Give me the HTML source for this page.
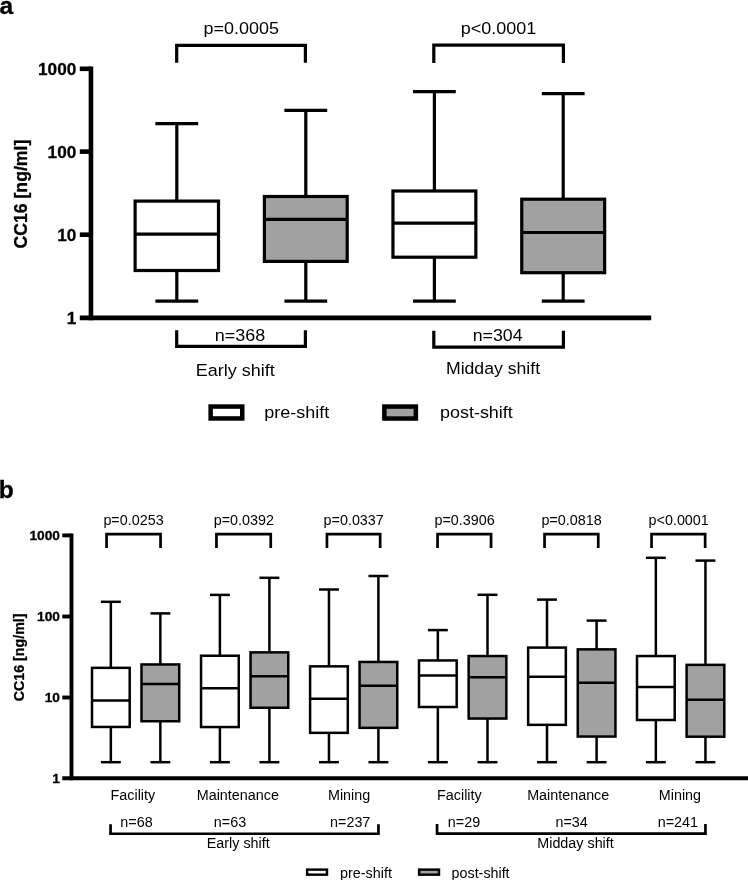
<!DOCTYPE html>
<html><head><meta charset="utf-8"><title>CC16 boxplots</title>
<style>
html,body{margin:0;padding:0;background:#fff;}
body{width:748px;height:880px;overflow:hidden;}
svg{display:block;will-change:transform;}
svg text{font-family:"Liberation Sans",sans-serif;fill:#000;}
</style></head><body>
<svg width="748" height="880" viewBox="0 0 748 880">
<rect x="0" y="0" width="748" height="880" fill="#fff"/>
<text transform="translate(-0.4 13.8) scale(1 1.0)" font-size="24.6" text-anchor="start" font-weight="700" stroke="#000" stroke-width="0.3">a</text>
<line x1="90.95" y1="66.5" x2="90.95" y2="320.15000000000003" stroke="#000" stroke-width="4.6"/>
<line x1="79.8" y1="317.85" x2="651.2" y2="317.85" stroke="#000" stroke-width="4.6"/>
<line x1="79.8" y1="68.8" x2="90.95" y2="68.8" stroke="#000" stroke-width="4.6"/>
<line x1="79.8" y1="151.6" x2="90.95" y2="151.6" stroke="#000" stroke-width="4.6"/>
<line x1="79.8" y1="234.7" x2="90.95" y2="234.7" stroke="#000" stroke-width="4.6"/>
<text transform="translate(76.3 74.8) scale(1 0.965)" font-size="17.2" text-anchor="end" font-weight="700" stroke="#000" stroke-width="0.3">1000</text>
<text transform="translate(76.3 157.6) scale(1 0.965)" font-size="17.2" text-anchor="end" font-weight="700" stroke="#000" stroke-width="0.3">100</text>
<text transform="translate(76.3 240.7) scale(1 0.965)" font-size="17.2" text-anchor="end" font-weight="700" stroke="#000" stroke-width="0.3">10</text>
<text transform="translate(76.3 323.85) scale(1 0.965)" font-size="17.2" text-anchor="end" font-weight="700" stroke="#000" stroke-width="0.3">1</text>
<text transform="translate(26.6 248.5) rotate(-90) scale(1 1.03)" font-size="17.65" font-weight="700" stroke="#000" stroke-width="0.3">CC16 [ng/ml]</text>
<line x1="176.8" y1="123.6" x2="176.8" y2="301.2" stroke="#000" stroke-width="3.2"/>
<line x1="155.4" y1="123.6" x2="198.20000000000002" y2="123.6" stroke="#000" stroke-width="3.2"/>
<line x1="155.4" y1="301.2" x2="198.20000000000002" y2="301.2" stroke="#000" stroke-width="3.2"/>
<rect x="135.1" y="201.1" width="83.39999999999999" height="69.40000000000002" fill="#fff" stroke="#000" stroke-width="3.2"/>
<line x1="135.1" y1="234.1" x2="218.5" y2="234.1" stroke="#000" stroke-width="3.2"/>
<line x1="305.8" y1="110.3" x2="305.8" y2="301.2" stroke="#000" stroke-width="3.2"/>
<line x1="284.40000000000003" y1="110.3" x2="327.2" y2="110.3" stroke="#000" stroke-width="3.2"/>
<line x1="284.40000000000003" y1="301.2" x2="327.2" y2="301.2" stroke="#000" stroke-width="3.2"/>
<rect x="264.40000000000003" y="196.5" width="82.8" height="64.89999999999999" fill="#a1a1a1" stroke="#000" stroke-width="3.2"/>
<line x1="264.40000000000003" y1="219.4" x2="347.2" y2="219.4" stroke="#000" stroke-width="3.2"/>
<line x1="434.4" y1="91.7" x2="434.4" y2="301.1" stroke="#000" stroke-width="3.2"/>
<line x1="413.0" y1="91.7" x2="455.79999999999995" y2="91.7" stroke="#000" stroke-width="3.2"/>
<line x1="413.0" y1="301.1" x2="455.79999999999995" y2="301.1" stroke="#000" stroke-width="3.2"/>
<rect x="392.95" y="191.0" width="82.89999999999999" height="66.2" fill="#fff" stroke="#000" stroke-width="3.2"/>
<line x1="392.95" y1="223.1" x2="475.8499999999999" y2="223.1" stroke="#000" stroke-width="3.2"/>
<line x1="563.2" y1="93.6" x2="563.2" y2="301.1" stroke="#000" stroke-width="3.2"/>
<line x1="541.8000000000001" y1="93.6" x2="584.6" y2="93.6" stroke="#000" stroke-width="3.2"/>
<line x1="541.8000000000001" y1="301.1" x2="584.6" y2="301.1" stroke="#000" stroke-width="3.2"/>
<rect x="521.7500000000001" y="199.2" width="82.89999999999999" height="73.50000000000001" fill="#a1a1a1" stroke="#000" stroke-width="3.2"/>
<line x1="521.7500000000001" y1="232.5" x2="604.6500000000001" y2="232.5" stroke="#000" stroke-width="3.2"/>
<path d="M176.7 62.8 V45.300000000000004 H305.4 V62.8" fill="none" stroke="#000" stroke-width="3.2"/>
<path d="M433.8 62.9 V45.1 H563.4 V62.9" fill="none" stroke="#000" stroke-width="3.2"/>
<text transform="translate(241.2 34.1) scale(1 0.965)" font-size="18.0" text-anchor="middle">p=0.0005</text>
<text transform="translate(498.6 34.3) scale(1 0.965)" font-size="18.0" text-anchor="middle">p&lt;0.0001</text>
<path d="M176.7 330.3 V346.29999999999995 H305.4 V330.3" fill="none" stroke="#000" stroke-width="3.2"/>
<path d="M433.8 330.8 V347.09999999999997 H563.4 V330.8" fill="none" stroke="#000" stroke-width="3.2"/>
<text transform="translate(239.9 341.1) scale(1 0.965)" font-size="18.0" text-anchor="middle">n=368</text>
<text transform="translate(497.6 341.1) scale(1 0.965)" font-size="17.75" text-anchor="middle">n=304</text>
<text transform="translate(235.3 375.9) scale(1 0.965)" font-size="18.0" text-anchor="middle">Early shift</text>
<text transform="translate(493.0 373.6) scale(1 0.965)" font-size="17.65" text-anchor="middle">Midday shift</text>
<rect x="210.65" y="406.55" width="31.6" height="11.899999999999999" fill="#fff" stroke="#000" stroke-width="4.5"/>
<text transform="translate(264.2 418.2) scale(1 0.965)" font-size="18.0" text-anchor="start">pre-shift</text>
<rect x="384.35" y="406.55" width="31.5" height="12.0" fill="#a1a1a1" stroke="#000" stroke-width="4.5"/>
<text transform="translate(439.9 418.2) scale(1 0.965)" font-size="18.0" text-anchor="start">post-shift</text>
<text transform="translate(-1.2 498.0) scale(1 1.0)" font-size="24.6" text-anchor="start" font-weight="700" stroke="#000" stroke-width="0.3">b</text>
<line x1="71.5" y1="533.4499999999999" x2="71.5" y2="780.25" stroke="#000" stroke-width="3.9"/>
<line x1="62.3" y1="778.3" x2="748" y2="778.3" stroke="#000" stroke-width="3.9"/>
<line x1="62.3" y1="535.4" x2="71.5" y2="535.4" stroke="#000" stroke-width="3.9"/>
<line x1="62.3" y1="616.5" x2="71.5" y2="616.5" stroke="#000" stroke-width="3.9"/>
<line x1="62.3" y1="697.5" x2="71.5" y2="697.5" stroke="#000" stroke-width="3.9"/>
<text transform="translate(60.0 540.3) scale(1 0.965)" font-size="13.75" text-anchor="end" font-weight="700" stroke="#000" stroke-width="0.3">1000</text>
<text transform="translate(60.0 621.4) scale(1 0.965)" font-size="13.75" text-anchor="end" font-weight="700" stroke="#000" stroke-width="0.3">100</text>
<text transform="translate(60.0 702.4) scale(1 0.965)" font-size="13.75" text-anchor="end" font-weight="700" stroke="#000" stroke-width="0.3">10</text>
<text transform="translate(60.0 783.1999999999999) scale(1 0.965)" font-size="13.75" text-anchor="end" font-weight="700" stroke="#000" stroke-width="0.3">1</text>
<text transform="translate(23.7 701.3) rotate(-90) scale(1 1.03)" font-size="14.25" font-weight="700" stroke="#000" stroke-width="0.25">CC16 [ng/ml]</text>
<line x1="110.85" y1="601.8" x2="110.85" y2="762.2" stroke="#000" stroke-width="2.5"/>
<line x1="100.89999999999999" y1="601.8" x2="120.8" y2="601.8" stroke="#000" stroke-width="2.5"/>
<line x1="100.89999999999999" y1="762.2" x2="120.8" y2="762.2" stroke="#000" stroke-width="2.5"/>
<rect x="92.0" y="667.85" width="37.7" height="59.10000000000002" fill="#fff" stroke="#000" stroke-width="2.5"/>
<line x1="92.0" y1="700.4" x2="129.7" y2="700.4" stroke="#000" stroke-width="2.5"/>
<line x1="160.35" y1="613.4" x2="160.35" y2="762.2" stroke="#000" stroke-width="2.5"/>
<line x1="150.4" y1="613.4" x2="170.29999999999998" y2="613.4" stroke="#000" stroke-width="2.5"/>
<line x1="150.4" y1="762.2" x2="170.29999999999998" y2="762.2" stroke="#000" stroke-width="2.5"/>
<rect x="141.5" y="664.45" width="37.7" height="56.799999999999955" fill="#a1a1a1" stroke="#000" stroke-width="2.5"/>
<line x1="141.5" y1="683.9" x2="179.2" y2="683.9" stroke="#000" stroke-width="2.5"/>
<line x1="219.9" y1="594.9" x2="219.9" y2="762.2" stroke="#000" stroke-width="2.5"/>
<line x1="209.95000000000002" y1="594.9" x2="229.85" y2="594.9" stroke="#000" stroke-width="2.5"/>
<line x1="209.95000000000002" y1="762.2" x2="229.85" y2="762.2" stroke="#000" stroke-width="2.5"/>
<rect x="201.05" y="655.75" width="37.7" height="71.29999999999995" fill="#fff" stroke="#000" stroke-width="2.5"/>
<line x1="201.05" y1="688.3" x2="238.75" y2="688.3" stroke="#000" stroke-width="2.5"/>
<line x1="269.4" y1="577.8" x2="269.4" y2="762.2" stroke="#000" stroke-width="2.5"/>
<line x1="259.45" y1="577.8" x2="279.34999999999997" y2="577.8" stroke="#000" stroke-width="2.5"/>
<line x1="259.45" y1="762.2" x2="279.34999999999997" y2="762.2" stroke="#000" stroke-width="2.5"/>
<rect x="250.54999999999998" y="652.35" width="37.7" height="55.39999999999998" fill="#a1a1a1" stroke="#000" stroke-width="2.5"/>
<line x1="250.54999999999998" y1="676.2" x2="288.25" y2="676.2" stroke="#000" stroke-width="2.5"/>
<line x1="328.95" y1="589.5" x2="328.95" y2="762.2" stroke="#000" stroke-width="2.5"/>
<line x1="319.0" y1="589.5" x2="338.9" y2="589.5" stroke="#000" stroke-width="2.5"/>
<line x1="319.0" y1="762.2" x2="338.9" y2="762.2" stroke="#000" stroke-width="2.5"/>
<rect x="310.09999999999997" y="666.35" width="37.7" height="66.5" fill="#fff" stroke="#000" stroke-width="2.5"/>
<line x1="310.09999999999997" y1="698.65" x2="347.79999999999995" y2="698.65" stroke="#000" stroke-width="2.5"/>
<line x1="378.4" y1="576.0" x2="378.4" y2="762.2" stroke="#000" stroke-width="2.5"/>
<line x1="368.45" y1="576.0" x2="388.34999999999997" y2="576.0" stroke="#000" stroke-width="2.5"/>
<line x1="368.45" y1="762.2" x2="388.34999999999997" y2="762.2" stroke="#000" stroke-width="2.5"/>
<rect x="359.54999999999995" y="661.95" width="37.7" height="65.89999999999998" fill="#a1a1a1" stroke="#000" stroke-width="2.5"/>
<line x1="359.54999999999995" y1="685.65" x2="397.24999999999994" y2="685.65" stroke="#000" stroke-width="2.5"/>
<line x1="437.85" y1="630.1" x2="437.85" y2="762.2" stroke="#000" stroke-width="2.5"/>
<line x1="427.90000000000003" y1="630.1" x2="447.8" y2="630.1" stroke="#000" stroke-width="2.5"/>
<line x1="427.90000000000003" y1="762.2" x2="447.8" y2="762.2" stroke="#000" stroke-width="2.5"/>
<rect x="419.0" y="660.45" width="37.7" height="46.549999999999955" fill="#fff" stroke="#000" stroke-width="2.5"/>
<line x1="419.0" y1="675.6" x2="456.7" y2="675.6" stroke="#000" stroke-width="2.5"/>
<line x1="487.5" y1="594.8" x2="487.5" y2="762.2" stroke="#000" stroke-width="2.5"/>
<line x1="477.55" y1="594.8" x2="497.45" y2="594.8" stroke="#000" stroke-width="2.5"/>
<line x1="477.55" y1="762.2" x2="497.45" y2="762.2" stroke="#000" stroke-width="2.5"/>
<rect x="468.65" y="656.05" width="37.7" height="62.5" fill="#a1a1a1" stroke="#000" stroke-width="2.5"/>
<line x1="468.65" y1="677.2" x2="506.34999999999997" y2="677.2" stroke="#000" stroke-width="2.5"/>
<line x1="547.0" y1="599.6" x2="547.0" y2="762.2" stroke="#000" stroke-width="2.5"/>
<line x1="537.05" y1="599.6" x2="556.95" y2="599.6" stroke="#000" stroke-width="2.5"/>
<line x1="537.05" y1="762.2" x2="556.95" y2="762.2" stroke="#000" stroke-width="2.5"/>
<rect x="528.15" y="647.6" width="37.7" height="77.25" fill="#fff" stroke="#000" stroke-width="2.5"/>
<line x1="528.15" y1="676.8" x2="565.85" y2="676.8" stroke="#000" stroke-width="2.5"/>
<line x1="596.6" y1="620.6" x2="596.6" y2="762.2" stroke="#000" stroke-width="2.5"/>
<line x1="586.65" y1="620.6" x2="606.5500000000001" y2="620.6" stroke="#000" stroke-width="2.5"/>
<line x1="586.65" y1="762.2" x2="606.5500000000001" y2="762.2" stroke="#000" stroke-width="2.5"/>
<rect x="577.75" y="649.35" width="37.7" height="87.19999999999993" fill="#a1a1a1" stroke="#000" stroke-width="2.5"/>
<line x1="577.75" y1="682.7" x2="615.45" y2="682.7" stroke="#000" stroke-width="2.5"/>
<line x1="655.85" y1="557.8" x2="655.85" y2="762.2" stroke="#000" stroke-width="2.5"/>
<line x1="645.9" y1="557.8" x2="665.8000000000001" y2="557.8" stroke="#000" stroke-width="2.5"/>
<line x1="645.9" y1="762.2" x2="665.8000000000001" y2="762.2" stroke="#000" stroke-width="2.5"/>
<rect x="637.0" y="656.05" width="37.7" height="63.950000000000045" fill="#fff" stroke="#000" stroke-width="2.5"/>
<line x1="637.0" y1="687.1" x2="674.7" y2="687.1" stroke="#000" stroke-width="2.5"/>
<line x1="705.45" y1="560.6" x2="705.45" y2="762.2" stroke="#000" stroke-width="2.5"/>
<line x1="695.5" y1="560.6" x2="715.4000000000001" y2="560.6" stroke="#000" stroke-width="2.5"/>
<line x1="695.5" y1="762.2" x2="715.4000000000001" y2="762.2" stroke="#000" stroke-width="2.5"/>
<rect x="686.6" y="664.85" width="37.7" height="71.85000000000002" fill="#a1a1a1" stroke="#000" stroke-width="2.5"/>
<line x1="686.6" y1="699.7" x2="724.3000000000001" y2="699.7" stroke="#000" stroke-width="2.5"/>
<path d="M106.55 548.1 V534.0500000000001 H160.55 V548.1" fill="none" stroke="#000" stroke-width="2.7"/>
<path d="M216.45 548.1 V534.0500000000001 H270.75 V548.1" fill="none" stroke="#000" stroke-width="2.7"/>
<path d="M326.95000000000005 548.1 V534.0500000000001 H380.15 V548.1" fill="none" stroke="#000" stroke-width="2.7"/>
<path d="M437.55 548.1 V534.0500000000001 H491.04999999999995 V548.1" fill="none" stroke="#000" stroke-width="2.7"/>
<path d="M544.5500000000001 548.1 V534.0500000000001 H598.25 V548.1" fill="none" stroke="#000" stroke-width="2.7"/>
<path d="M651.5500000000001 548.1 V534.0500000000001 H705.15 V548.1" fill="none" stroke="#000" stroke-width="2.7"/>
<text transform="translate(133.5 525.3) scale(1 0.965)" font-size="14.35" text-anchor="middle">p=0.0253</text>
<text transform="translate(243.8 525.3) scale(1 0.965)" font-size="14.35" text-anchor="middle">p=0.0392</text>
<text transform="translate(353.7 525.3) scale(1 0.965)" font-size="14.35" text-anchor="middle">p=0.0337</text>
<text transform="translate(464.6 525.3) scale(1 0.965)" font-size="14.35" text-anchor="middle">p=0.3906</text>
<text transform="translate(571.5 525.3) scale(1 0.965)" font-size="14.35" text-anchor="middle">p=0.0818</text>
<text transform="translate(678.7 525.3) scale(1 0.965)" font-size="14.35" text-anchor="middle">p&lt;0.0001</text>
<text transform="translate(132.9 800.2) scale(1 0.965)" font-size="14.35" text-anchor="middle">Facility</text>
<text transform="translate(237.8 800.2) scale(1 0.965)" font-size="14.35" text-anchor="middle">Maintenance</text>
<text transform="translate(349.1 800.2) scale(1 0.965)" font-size="14.35" text-anchor="middle">Mining</text>
<text transform="translate(459.4 799.8) scale(1 0.965)" font-size="14.35" text-anchor="middle">Facility</text>
<text transform="translate(568.2 799.8) scale(1 0.965)" font-size="14.35" text-anchor="middle">Maintenance</text>
<text transform="translate(679.9 799.8) scale(1 0.965)" font-size="14.35" text-anchor="middle">Mining</text>
<text transform="translate(136.5 827.1) scale(1 0.965)" font-size="14.35" text-anchor="middle">n=68</text>
<text transform="translate(230.0 827.1) scale(1 0.965)" font-size="14.35" text-anchor="middle">n=63</text>
<text transform="translate(350.2 827.1) scale(1 0.965)" font-size="14.35" text-anchor="middle">n=237</text>
<text transform="translate(464.0 826.6) scale(1 0.965)" font-size="14.35" text-anchor="middle">n=29</text>
<text transform="translate(571.6 826.6) scale(1 0.965)" font-size="14.35" text-anchor="middle">n=34</text>
<text transform="translate(677.9 826.6) scale(1 0.965)" font-size="14.35" text-anchor="middle">n=241</text>
<path d="M110.55 824.3 V833.75 H378.45 V824.3" fill="none" stroke="#000" stroke-width="2.7"/>
<path d="M437.05 824.0 V833.55 H705.4499999999999 V824.0" fill="none" stroke="#000" stroke-width="2.7"/>
<text transform="translate(238.2 848.0) scale(1 0.965)" font-size="14.35" text-anchor="middle">Early shift</text>
<text transform="translate(575.5 847.7) scale(1 0.965)" font-size="14.35" text-anchor="middle">Midday shift</text>
<rect x="307.125" y="869.625" width="19.85" height="5.05" fill="#fff" stroke="#000" stroke-width="2.45"/>
<text transform="translate(340.0 877.5) scale(1 0.965)" font-size="14.4" text-anchor="start">pre-shift</text>
<rect x="419.125" y="869.625" width="19.85" height="5.05" fill="#a1a1a1" stroke="#000" stroke-width="2.45"/>
<text transform="translate(451.6 877.5) scale(1 0.965)" font-size="14.3" text-anchor="start">post-shift</text>
</svg>
</body></html>
